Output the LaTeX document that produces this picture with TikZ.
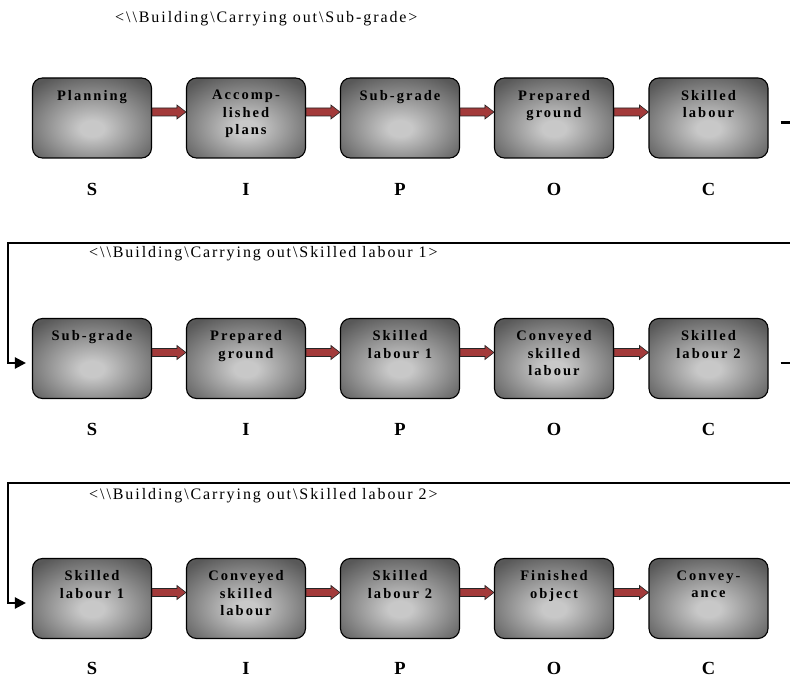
\documentclass[tikz,border=0pt]{standalone}
\usepackage{fontspec}
\setmainfont{Liberation Serif}
\newfontfamily\titlefont[LetterSpace=12]{Liberation Serif}
\newfontfamily\stagefont[LetterSpace=14]{Liberation Serif}
\usetikzlibrary{arrows.meta,calc}

\definecolor{shadelight}{RGB}{200,200,200}
\definecolor{shadedark}{RGB}{88,88,88}
\definecolor{arrowred}{RGB}{163,58,58}

% soft grey glow in the middle of every stage box
\pgfdeclareradialshading{stageshade}{\pgfpoint{0bp}{-7bp}}{%
  color(0bp)=(shadelight); color(5bp)=(shadelight);
  color(34bp)=(shadedark); color(80bp)=(shadedark)}

\tikzset{
  stagebox/.style={draw=black, line width=1.1pt, rounded corners=10pt,
    shading=stageshade, minimum width=119pt, minimum height=80pt,
    inner sep=0pt},
  stagetext/.style={anchor=north, align=center, inner sep=0pt,
    font={\stagefont\bfseries\fontsize{14.5pt}{17.5pt}\selectfont}},
  sipo/.style={font={\bfseries\fontsize{18.5pt}{20pt}\selectfont}, inner sep=0pt},
  rowtitle/.style={anchor=base west, inner sep=0pt,
    font={\titlefont\fontsize{16pt}{18pt}\selectfont}},
  link/.style={draw=black, line width=2.2pt},
  blockarrow/.style={fill=arrowred, draw=black!85, line width=0.6pt, line join=miter},
}

% a stage: box plus its caption near the top edge
\newcommand\stage[4]{%
  \node[stagebox] (#1) at (#2,#3) {};
  \node[stagetext] (#1-t) at ($(#1.north)+(0,-12.5pt)$) {#4};
}
% fat red arrow from one stage to the next
\newcommand\stagearrow[2]{%
  \filldraw[blockarrow] let \p1=(#1.east), \p2=(#2.west) in
    (\x1,\y1+10pt) -- (\x2-9pt,\y1+10pt) -- (\x2-9pt,\y1+13pt) --
    (\x2,\y1+6pt) -- (\x2-9pt,\y1-1pt) -- (\x2-9pt,\y1+2pt) --
    (\x1,\y1+2pt) -- cycle;
}

\begin{document}
\begin{tikzpicture}[x=1pt,y=-1pt]
\useasboundingbox (0,0) rectangle (790,679);

% ---------- row 1 ----------
\node[rowtitle] (title1) at (115,23) {<\textbackslash\textbackslash Building\textbackslash Carrying out\textbackslash Sub-grade>};
\stage{a1}{92}{118}{Planning}
\stage{a2}{246}{118}{Accomp-\\lished\\plans}
\stage{a3}{400}{118}{Sub-grade}
\stage{a4}{554}{118}{Prepared\\ground}
\stage{a5}{708.5}{118}{Skilled\\labour}
\stagearrow{a1}{a2}\stagearrow{a2}{a3}\stagearrow{a3}{a4}\stagearrow{a4}{a5}
\node[sipo] (a1-l) at (92,189) {S};
\node[sipo] (a2-l) at (246,189) {I};
\node[sipo] (a3-l) at (400,189) {P};
\node[sipo] (a4-l) at (554,189) {O};
\node[sipo] (a5-l) at (708.5,189) {C};

\coordinate (edgeR) at (790,0);
\coordinate (a5-out) at ($(a5.east)+(12pt,-4.5pt)$);
\draw[link] (a5-out) -- (a5-out -| edgeR);

% ---------- row 2 ----------
\coordinate (r2-top) at (790,243);
\coordinate (r2-corner) at (8,243);
\node[rowtitle] (title2) at (89,258) {<\textbackslash\textbackslash Building\textbackslash Carrying out\textbackslash Skilled labour 1>};
\stage{b1}{92}{358.5}{Sub-grade}
\stage{b2}{246}{358.5}{Prepared\\ground}
\stage{b3}{400}{358.5}{Skilled\\labour 1}
\stage{b4}{554}{358.5}{Conveyed\\skilled\\labour}
\stage{b5}{708.5}{358.5}{Skilled\\labour 2}
\stagearrow{b1}{b2}\stagearrow{b2}{b3}\stagearrow{b3}{b4}\stagearrow{b4}{b5}
\node[sipo] (b1-l) at (92,429) {S};
\node[sipo] (b2-l) at (246,429) {I};
\node[sipo] (b3-l) at (400,429) {P};
\node[sipo] (b4-l) at (554,429) {O};
\node[sipo] (b5-l) at (708.5,429) {C};

\coordinate (b1-in) at ($(b1.west)+(0,-4.5pt)$);
\draw[link, -{Triangle[length=11pt,width=11pt]}, shorten >=6pt]
  (r2-top) -- (r2-corner) |- (b1-in);
\coordinate (b5-out) at ($(b5.east)+(12pt,-4.5pt)$);
\draw[link] (b5-out) -- (b5-out -| edgeR);

% ---------- row 3 ----------
\coordinate (r3-top) at (790,483);
\coordinate (r3-corner) at (8,483);
\node[rowtitle] (title3) at (89,499) {<\textbackslash\textbackslash Building\textbackslash Carrying out\textbackslash Skilled labour 2>};
\stage{c1}{92}{598.5}{Skilled\\labour 1}
\stage{c2}{246}{598.5}{Conveyed\\skilled\\labour}
\stage{c3}{400}{598.5}{Skilled\\labour 2}
\stage{c4}{554}{598.5}{Finished\\object}
\stage{c5}{708.5}{598.5}{Convey-\\ance}
\stagearrow{c1}{c2}\stagearrow{c2}{c3}\stagearrow{c3}{c4}\stagearrow{c4}{c5}
\node[sipo] (c1-l) at (92,668) {S};
\node[sipo] (c2-l) at (246,668) {I};
\node[sipo] (c3-l) at (400,668) {P};
\node[sipo] (c4-l) at (554,668) {O};
\node[sipo] (c5-l) at (708.5,668) {C};

\coordinate (c1-in) at ($(c1.west)+(0,-4.5pt)$);
\draw[link, -{Triangle[length=11pt,width=11pt]}, shorten >=6pt]
  (r3-top) -- (r3-corner) |- (c1-in);
\end{tikzpicture}
\end{document}
